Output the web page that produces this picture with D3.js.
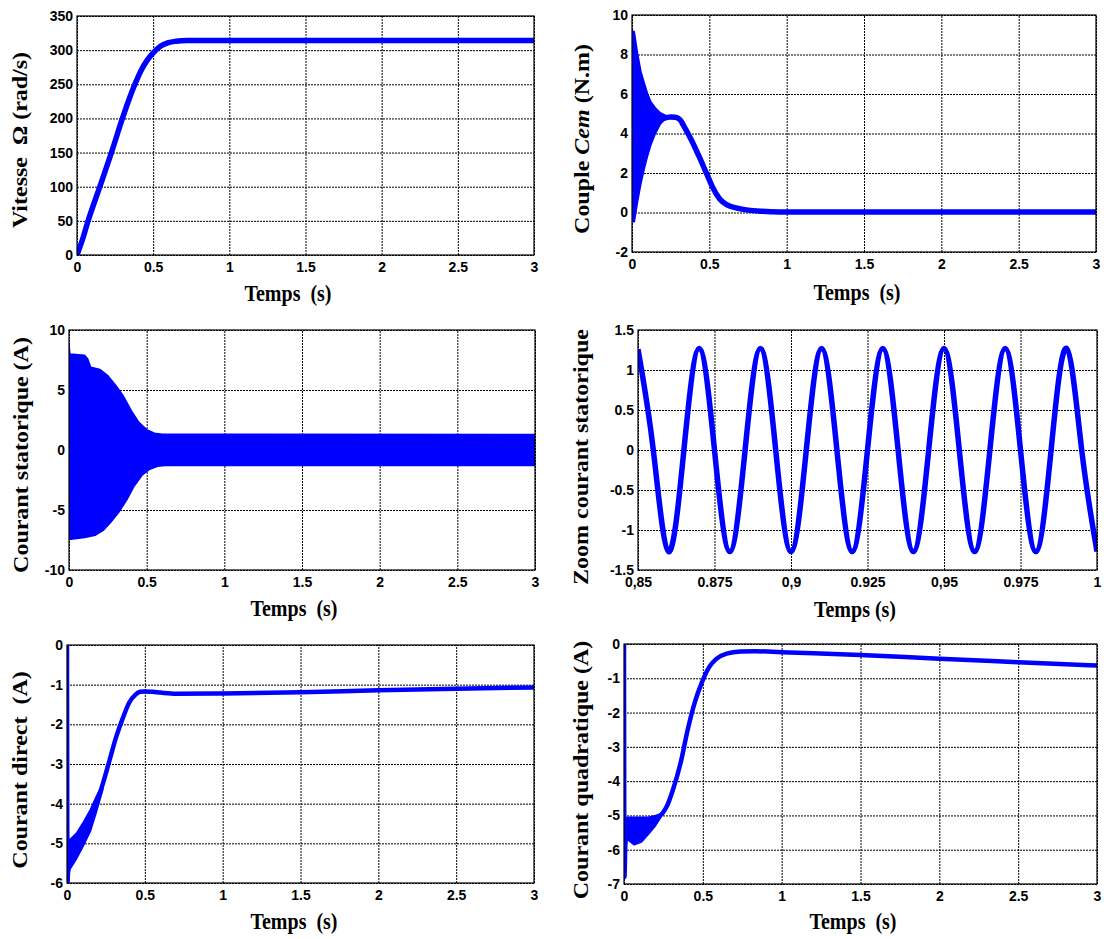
<!DOCTYPE html>
<html><head><meta charset="utf-8">
<script src="https://cdn.jsdelivr.net/npm/d3@7"></script>
<style>body{margin:0;background:#fff} svg{display:block} text{white-space:pre}</style>
</head><body>
<svg id="c" width="1104" height="939"></svg>
<script>
// ---------------- DATA ----------------
// Panel 1 : speed (rad/s)
const speedTime  = [0, 0.035, 0.07, 0.15, 0.226, 0.298, 0.345, 0.38, 0.42, 0.46, 0.5, 0.55, 0.6, 0.65, 0.72, 1.0, 3.0];
const speedValue = [0, 22, 48, 100, 150, 200, 230, 250, 270, 285, 296, 306, 311, 313, 314, 314, 314];

// Panel 2 : electromagnetic torque (N.m)
const cemBandTime  = [0, 0.015, 0.036, 0.058, 0.08, 0.1, 0.122, 0.152, 0.185, 0.215, 0.245];
const cemBandUpper = [9.2, 9.15, 8.06, 7.13, 6.54, 6.04, 5.61, 5.29, 5.04, 4.93, 4.85];
const cemBandLower = [-0.45, -0.47, 0.54, 1.47, 2.24, 2.83, 3.42, 4.01, 4.5, 4.72, 4.8];
const cemTime  = [0.2, 0.25, 0.28, 0.31, 0.338, 0.384, 0.43, 0.475, 0.5, 0.52, 0.566, 0.612, 0.68, 0.75, 0.84, 0.95, 1.2, 3];
const cemValue = [4.75, 4.83, 4.82, 4.7, 4.34, 3.67, 2.9, 2.1, 1.65, 1.3, 0.7, 0.4, 0.22, 0.12, 0.06, 0.03, 0.03, 0.03];

// Panel 3 : stator current envelope (A)
const isUpperTime  = [0, 0.006, 0.1, 0.12, 0.14, 0.2, 0.25, 0.3, 0.35, 0.4, 0.45, 0.5, 0.55, 0.6, 3];
const isUpperValue = [8.7, 8.0, 7.9, 7.6, 6.9, 6.7, 6.2, 5.4, 4.5, 3.3, 2.3, 1.7, 1.4, 1.32, 1.3];
const isLowerTime  = [0, 0.1, 0.17, 0.22, 0.27, 0.32, 0.37, 0.42, 0.47, 0.52, 0.57, 0.62, 3];
const isLowerValue = [-7.45, -7.3, -7.1, -6.7, -6.0, -5.2, -4.2, -3.0, -2.1, -1.6, -1.35, -1.3, -1.3];

// Panel 4 : zoom on stator current
const zoomTime  = [0.85, 0.855, 0.86, 0.865, 0.87, 0.875, 0.88, 0.885, 0.89, 0.895, 0.9, 0.905, 0.91, 0.915, 0.92, 0.925,
                   0.93, 0.935, 0.94, 0.945, 0.95, 0.955, 0.96, 0.965, 0.97, 0.975, 0.98, 0.985, 0.99, 0.995, 1.0];
const zoomValue = [1.26, 0, -1.27, 0, 1.27, 0, -1.27, 0, 1.27, 0, -1.27, 0, 1.27, 0, -1.27, 0,
                   1.27, 0, -1.27, 0, 1.27, 0, -1.27, 0, 1.27, 0, -1.27, 0, 1.27, 0, -1.27];

// Panel 5 : direct current (A)
const idBandTime  = [0.006, 0.02, 0.06, 0.1, 0.15, 0.19, 0.23];
const idBandUpper = [-4.9, -4.9, -4.75, -4.5, -4.15, -3.8, -3.5];
const idBandLower = [-5.9, -5.65, -5.4, -5.1, -4.7, -4.2, -3.65];
const idTime  = [0, 0.003, 0.01, 0.06, 0.1, 0.15, 0.19, 0.23, 0.27, 0.315, 0.358, 0.4, 0.44, 0.47, 0.5, 0.55, 0.6, 0.7, 1, 1.5, 2, 2.5, 3];
const idValue = [0, -6, -5.3, -5.1, -4.8, -4.42, -3.98, -3.5, -2.95, -2.33, -1.85, -1.45, -1.25, -1.18, -1.17, -1.18, -1.2, -1.23, -1.22, -1.19, -1.14, -1.1, -1.07];

// Panel 6 : quadrature current (A)
const iqBandTime  = [0.006, 0.02, 0.065, 0.11, 0.155, 0.2, 0.235];
const iqBandUpper = [-5.1, -5.05, -5.05, -5.05, -5.05, -5.0, -4.95];
const iqBandLower = [-6.3, -5.7, -5.86, -5.78, -5.55, -5.3, -5.05];
const iqTime  = [0, 0.003, 0.01, 0.06, 0.12, 0.18, 0.22, 0.25, 0.27, 0.314, 0.36, 0.404, 0.449, 0.494, 0.539, 0.584, 0.651, 0.741, 0.83, 1, 1.5, 2, 2.5, 3];
const iqValue = [0, -6.8, -5.5, -5.45, -5.4, -5.2, -5.05, -4.9, -4.75, -4.2, -3.45, -2.5, -1.7, -1.12, -0.68, -0.44, -0.28, -0.22, -0.21, -0.24, -0.32, -0.43, -0.53, -0.63];

// Ticks
const timeTicks = [0, 0.5, 1, 1.5, 2, 2.5, 3];
const timeTickLabels = ["0", "0.5", "1", "1.5", "2", "2.5", "3"];
const zoomTicks = [0.85, 0.875, 0.9, 0.925, 0.95, 0.975, 1];
const zoomTickLabels = ["0,85", "0.875", "0,9", "0.925", "0,95", "0.975", "1"];
const speedTicks = [0, 50, 100, 150, 200, 250, 300, 350];
const cemTicks = [-2, 0, 2, 4, 6, 8, 10];
const isTicks = [-10, -5, 0, 5, 10];
const zoomYTicks = [-1.5, -1, -0.5, 0, 0.5, 1, 1.5];
const idTicks = [-6, -5, -4, -3, -2, -1, 0];
const iqTicks = [-7, -6, -5, -4, -3, -2, -1, 0];

// Labels
const xLabelDouble = "Temps  (s)";
const xLabelSingle = "Temps (s)";

// ---------------- DRAW ----------------
const svg = d3.select("#c");
const BLUE = "#0000ff";
const defs = svg.append("defs");
let pid = 0;

function zip(a, b) { return a.map((v, i) => [v, b[i]]); }

function panel(cfg) {
  const id = "p" + (pid++);
  const x = d3.scaleLinear().domain(cfg.xDomain).range([cfg.left, cfg.right]);
  const y = d3.scaleLinear().domain(cfg.yDomain).range([cfg.bottom, cfg.top]);
  const w = cfg.right - cfg.left, h = cfg.bottom - cfg.top;
  const g = svg.append("g");

  defs.append("clipPath").attr("id", id).append("rect")
    .attr("x", cfg.left).attr("y", cfg.top).attr("width", w).attr("height", h);

  const xa = g.append("g").attr("transform", `translate(0,${cfg.bottom})`)
    .call(d3.axisBottom(x).tickValues(cfg.xTicks).tickSize(-h).tickPadding(7)
      .tickFormat((d, i) => cfg.xTickLabels[i]));
  const ya = g.append("g").attr("transform", `translate(${cfg.left},0)`)
    .call(d3.axisLeft(y).tickValues(cfg.yTicks).tickSize(-w).tickPadding(4)
      .tickFormat(d => String(d)));
  [xa, ya].forEach(a => {
    a.select(".domain").remove();
    a.selectAll("line").attr("stroke", "#000").attr("stroke-width", 1).attr("stroke-dasharray", "2,1");
    a.selectAll("text").attr("fill", "#000").style("font-family", "'Liberation Sans', Arial, sans-serif")
      .style("font-weight", "bold").style("font-size", "14px");
  });

  const data = g.append("g").attr("clip-path", `url(#${id})`);
  (cfg.bands || []).forEach(b => {
    const pts = b.upper.concat(b.lower.slice().reverse());
    data.append("path").attr("d", d3.line().x(d => x(d[0])).y(d => y(d[1]))(pts) + "Z")
      .attr("fill", BLUE).attr("stroke", BLUE).attr("stroke-width", 1.5).attr("stroke-linejoin", "round");
  });
  (cfg.lines || []).forEach(l => {
    data.append("path").attr("d", d3.line().curve(l.curve || d3.curveMonotoneX).x(d => x(d[0])).y(d => y(d[1]))(l.pts))
      .attr("fill", "none").attr("stroke", BLUE).attr("stroke-width", l.width || 5.5).attr("stroke-linejoin", "round");
  });

  g.append("rect").attr("x", cfg.left).attr("y", cfg.top).attr("width", w).attr("height", h)
    .attr("fill", "none").attr("stroke", "#000").attr("stroke-width", 1.2);

  g.append("text").attr("transform", `translate(${cfg.xLabelX},${cfg.xLabelY}) scale(1,1.2)`)
    .attr("text-anchor", "middle").style("font-family", "'Liberation Serif', 'Times New Roman', serif")
    .style("font-weight", "bold").style("font-size", "20px").text(cfg.xLabel);
  const yl = g.append("text").attr("transform", `translate(${cfg.yLabelX},${cfg.yLabelY}) rotate(-90) scale(1.2,1)`)
    .attr("text-anchor", "middle").attr("dy", "0.33em")
    .style("font-family", "'Liberation Serif', 'Times New Roman', serif")
    .style("font-weight", "bold").style("font-size", "20px");
  cfg.yLabel.forEach(p => {
    const t = yl.append("tspan").text(p.t);
    if (p.i) t.style("font-style", "italic");
  });
}

panel({
  left: 77, right: 534, top: 16, bottom: 255, xDomain: [0, 3], yDomain: [0, 350],
  xTicks: timeTicks, xTickLabels: timeTickLabels, yTicks: speedTicks,
  lines: [{ pts: zip(speedTime, speedValue) }],
  xLabel: xLabelDouble, xLabelX: 288, xLabelY: 301,
  yLabel: [{ t: "Vitesse  Ω (rad/s)" }], yLabelX: 20, yLabelY: 140
});
panel({
  left: 632, right: 1096, top: 15, bottom: 252, xDomain: [0, 3], yDomain: [-2, 10],
  xTicks: timeTicks, xTickLabels: timeTickLabels, yTicks: cemTicks,
  bands: [{ upper: zip(cemBandTime, cemBandUpper), lower: zip(cemBandTime, cemBandLower) }],
  lines: [{ pts: zip(cemTime, cemValue) }],
  xLabel: xLabelDouble, xLabelX: 857, xLabelY: 300,
  yLabel: [{ t: "Couple " }, { t: "Cem", i: true }, { t: " (N.m)" }], yLabelX: 582, yLabelY: 139
});
panel({
  left: 69, right: 535, top: 330, bottom: 570, xDomain: [0, 3], yDomain: [-10, 10],
  xTicks: timeTicks, xTickLabels: timeTickLabels, yTicks: isTicks,
  bands: [{ upper: zip(isUpperTime, isUpperValue), lower: zip(isLowerTime, isLowerValue) }],
  xLabel: xLabelDouble, xLabelX: 294, xLabelY: 616,
  yLabel: [{ t: "Courant statorique (A)" }], yLabelX: 21, yLabelY: 455
});
panel({
  left: 638, right: 1097, top: 330, bottom: 570, xDomain: [0.85, 1], yDomain: [-1.5, 1.5],
  xTicks: zoomTicks, xTickLabels: zoomTickLabels, yTicks: zoomYTicks,
  lines: [{ pts: zip(zoomTime, zoomValue), width: 5.5, curve: d3.curveNatural }],
  xLabel: xLabelSingle, xLabelX: 855, xLabelY: 617,
  yLabel: [{ t: "Zoom courant statorique" }], yLabelX: 581, yLabelY: 457
});
panel({
  left: 67, right: 534, top: 645, bottom: 883, xDomain: [0, 3], yDomain: [-6, 0],
  xTicks: timeTicks, xTickLabels: timeTickLabels, yTicks: idTicks,
  bands: [{ upper: zip(idBandTime, idBandUpper), lower: zip(idBandTime, idBandLower) }],
  lines: [{ pts: zip(idTime, idValue), width: 4.5 }],
  xLabel: xLabelDouble, xLabelX: 294, xLabelY: 929,
  yLabel: [{ t: "Courant direct  (A)" }], yLabelX: 20, yLabelY: 770
});
panel({
  left: 624, right: 1097, top: 644, bottom: 884, xDomain: [0, 3], yDomain: [-7, 0],
  xTicks: timeTicks, xTickLabels: timeTickLabels, yTicks: iqTicks,
  bands: [{ upper: zip(iqBandTime, iqBandUpper), lower: zip(iqBandTime, iqBandLower) }],
  lines: [{ pts: zip(iqTime, iqValue), width: 4.5 }],
  xLabel: xLabelDouble, xLabelX: 853, xLabelY: 929,
  yLabel: [{ t: "Courant quadratique (A)" }], yLabelX: 581, yLabelY: 770
});
</script>
</body></html>
